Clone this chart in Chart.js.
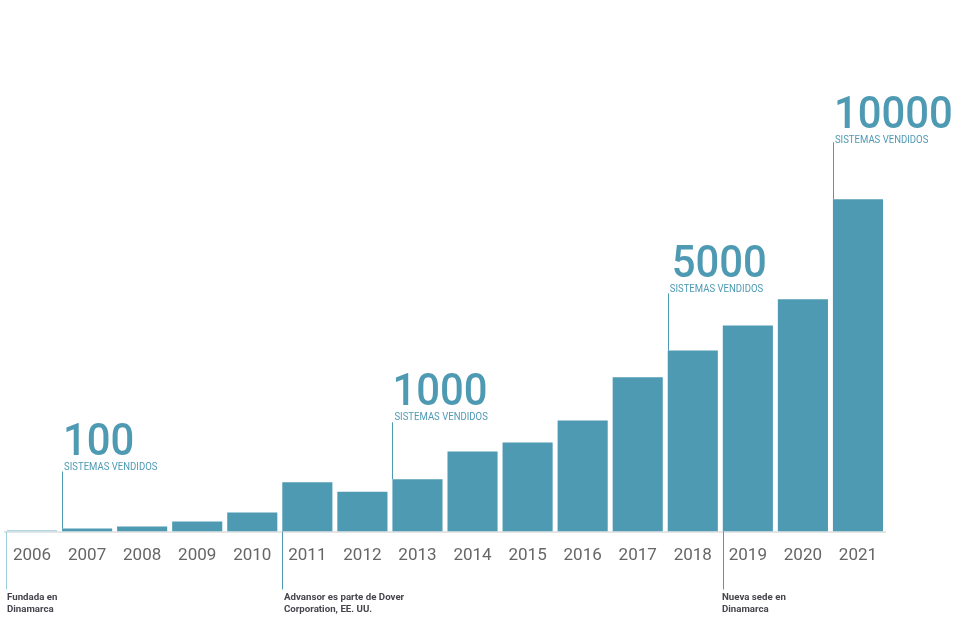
<!DOCTYPE html>
<html>
<head>
<meta charset="utf-8">
<style>
    html, body { margin: 0; background: #fff; }
    canvas { display: block; }
</style>
<script src="https://cdn.jsdelivr.net/npm/chart.js@4"></script>
</head>
<body>
<canvas id="ventas" width="960" height="630"></canvas>
<script>
const years = ["2006", "2007", "2008", "2009", "2010", "2011", "2012", "2013", "2014", "2015", "2016", "2017", "2018", "2019", "2020", "2021"];
const sold = [40, 90, 150, 300, 570, 1480, 1200, 1570, 2410, 2680, 3340, 4640, 5450, 6200, 6990, 10000];

const milestoneYears = ["2007", "2013", "2018", "2021"];
const milestoneLabels = ["100", "1000", "5000", "10000"];
const milestoneUnit = "SISTEMAS VENDIDOS";

const noteYears = ["2006", "2011", "2019"];
const noteLines = [
    ["Fundada en", "Dinamarca"],
    ["Advansor es parte de Dover", "Corporation, EE. UU."],
    ["Nueva sede en", "Dinamarca"],
];

const teal = "#4e9ab3";
const lightTeal = "#9ccddb";

// bar left edge for a year, taken from the bar element itself
const barOf = (chart, year) => chart.getDatasetMeta(0).data[years.indexOf(year)];
const leftOf = (bar) => bar.x - bar.width / 2;

// no condensed font installed, so squeeze the text horizontally
const narrowText = (ctx, text, x, y, squeeze) => {
    ctx.save();
    ctx.translate(x, y);
    ctx.scale(squeeze, 1);
    ctx.fillText(text, 0, 0);
    ctx.restore();
};

// small nudges so the text sits where it does in the picture
const labelGap = [1, 0, 4, 1];
const labelDrop = [0, 0, 1, 3];
const noteGap = [1, 2, -1];

const callouts = {
    id: "callouts",
    afterDatasetsDraw(chart) {
        const ctx = chart.ctx;
        const baseY = chart.scales.x.top;
        ctx.save();
        ctx.textAlign = "left";

        milestoneYears.forEach((year, i) => {
            const bar = barOf(chart, year);
            const x = leftOf(bar);
            const topY = bar.y - 57;
            ctx.strokeStyle = teal;
            ctx.lineWidth = 1;
            ctx.beginPath();
            ctx.moveTo(Math.round(x) + 0.5, topY);
            ctx.lineTo(Math.round(x) + 0.5, bar.y);
            ctx.stroke();

            ctx.fillStyle = teal;
            ctx.font = "500 45px Roboto";
            narrowText(ctx, milestoneLabels[i], x + labelGap[i], topY - 17 + labelDrop[i], 0.93);
            ctx.font = "11.5px Roboto";
            narrowText(ctx, milestoneUnit, x + 2, topY - 2 + labelDrop[i], 0.83);
        });

        noteYears.forEach((year, i) => {
            const x = Math.round(leftOf(barOf(chart, year))) - (i === 0 ? 1 : 0);
            ctx.strokeStyle = i === 0 ? lightTeal : teal;
            ctx.lineWidth = 1;
            ctx.beginPath();
            ctx.moveTo(x + 0.5, baseY);
            ctx.lineTo(x + 0.5, baseY + 58);
            ctx.stroke();

            ctx.fillStyle = "#45454d";
            ctx.font = "700 9.7px Roboto";
            noteLines[i].forEach((line, n) => {
                ctx.fillText(line, x + noteGap[i], baseY + 68 + n * 12);
            });
        });
        ctx.restore();
    },
};

new Chart(document.querySelector("#ventas"), {
    type: "bar",
    data: {
        labels: years,
        datasets: [
            {
                label: "Sistemas vendidos",
                data: sold,
                backgroundColor: (c) => (c.dataIndex === 0 ? lightTeal : teal),
                barPercentage: 0.91,
                categoryPercentage: 1,
            },
        ],
    },
    options: {
        responsive: false,
        animation: false,
        layout: { padding: { left: 4.5, right: 74.5, top: 0, bottom: 0 } },
        plugins: {
            legend: { display: false },
            tooltip: { enabled: false },
        },
        scales: {
            x: {
                grid: { display: false },
                border: { color: "#e4e6e6", width: 2 },
                ticks: {
                    color: "#666666",
                    font: { family: "Roboto", size: 17, weight: 400 },
                    padding: 6,
                    maxRotation: 0,
                    autoSkip: false,
                },
                afterFit: (scale) => {
                    scale.height = 98.5;
                },
            },
            y: {
                display: false,
                min: 0,
                max: 16000,
            },
        },
    },
    plugins: [callouts],
});
</script>
</body>
</html>
